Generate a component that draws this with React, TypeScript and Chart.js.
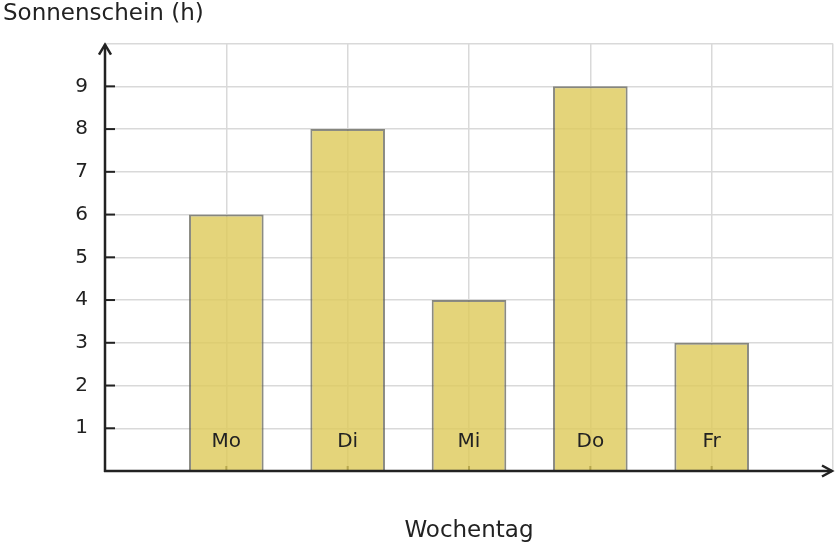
import React, { useEffect, useRef } from 'react';
import { Chart, registerables } from 'chart.js';

Chart.register(...registerables);

const categories = ['Mo', 'Di', 'Mi', 'Do', 'Fr'];
const sunshineHours = [6, 8, 4, 9, 3];
const yTickValues = [1, 2, 3, 4, 5, 6, 7, 8, 9];
const yMin = 0;
const yMax = 10;
const yTitle = 'Sonnenschein (h)';
const xTitle = 'Wochentag';

const FONT = '"DejaVu Sans", sans-serif';
const TEXT = '#222222';
const GRID = '#d9d9d9';

export default function App() {
  const ref = useRef<HTMLCanvasElement>(null);

  useEffect(() => {
    document.body.style.margin = '0';
    const canvas = ref.current;
    if (!canvas) return;

    const labels = ['', ...categories, ''];
    const data = [null, ...sunshineHours, null];

    const axesPlugin = {
      id: 'axesArrows',
      beforeDatasetsDraw(chart: any) {
        const { ctx, chartArea: a, scales } = chart;
        const x = scales.x;
        const y = scales.y;
        ctx.save();
        ctx.strokeStyle = TEXT;
        ctx.lineWidth = 2;
        yTickValues.forEach((v) => {
          const py = y.getPixelForValue(v);
          ctx.beginPath();
          ctx.moveTo(a.left, py);
          ctx.lineTo(a.left + 10, py);
          ctx.stroke();
        });
        categories.forEach((_, i) => {
          const px = x.getPixelForValue(i + 1);
          ctx.beginPath();
          ctx.moveTo(px, a.bottom);
          ctx.lineTo(px, a.bottom - 5);
          ctx.stroke();
        });
        ctx.restore();
      },
      afterDatasetsDraw(chart: any) {
        const { ctx, chartArea: a } = chart;
        ctx.save();
        ctx.strokeStyle = TEXT;
        ctx.lineWidth = 2.5;
        ctx.lineCap = 'butt';
        // y axis
        ctx.beginPath();
        ctx.moveTo(a.left, a.bottom + 1);
        ctx.lineTo(a.left, a.top + 1);
        ctx.stroke();
        // x axis
        ctx.beginPath();
        ctx.moveTo(a.left - 1, a.bottom);
        ctx.lineTo(a.right - 1, a.bottom);
        ctx.stroke();
        // arrow heads
        ctx.lineJoin = 'miter';
        ctx.beginPath();
        ctx.moveTo(a.left - 6, a.top + 11);
        ctx.lineTo(a.left, a.top + 1);
        ctx.lineTo(a.left + 6, a.top + 11);
        ctx.stroke();
        ctx.beginPath();
        ctx.moveTo(a.right - 11, a.bottom - 5.5);
        ctx.lineTo(a.right - 1, a.bottom);
        ctx.lineTo(a.right - 11, a.bottom + 5.5);
        ctx.stroke();
        ctx.restore();
      },
    };

    const chart = new Chart(canvas, {
      type: 'bar',
      data: {
        labels,
        datasets: [
          {
            data,
            backgroundColor: 'rgba(221, 201, 89, 0.8)',
            borderColor: 'rgba(100, 100, 90, 0.75)',
            borderWidth: 2,
            categoryPercentage: 1,
            barPercentage: 0.615,
          },
        ],
      },
      options: {
        animation: false,
        responsive: false,
        devicePixelRatio: 1,
        layout: { padding: { left: 3, right: 4, top: 0, bottom: 0 } },
        plugins: {
          legend: { display: false },
          tooltip: { enabled: false },
          title: {
            display: true,
            text: yTitle,
            align: 'start',
            color: TEXT,
            font: { family: FONT, size: 23, weight: 'normal' },
            padding: { top: 0, bottom: 16 },
          },
        },
        scales: {
          x: {
            type: 'category',
            offset: false,
            border: { display: false },
            grid: { color: GRID, lineWidth: 1.5, drawTicks: false, offset: false },
            ticks: {
              z: 1,
              mirror: true,
              color: TEXT,
              font: { family: FONT, size: 20 },
              padding: 17,
              maxRotation: 0,
              autoSkip: false,
            },
            title: {
              display: true,
              text: xTitle,
              color: TEXT,
              font: { family: FONT, size: 23 },
              padding: { top: 0, bottom: 3 },
            },
            afterFit(scale: any) {
              scale.height = 77;
              scale.paddingLeft = 0;
              scale.paddingRight = 0;
            },
          },
          y: {
            min: yMin,
            max: yMax,
            border: { display: false },
            grid: { color: GRID, lineWidth: 1.5, drawTicks: false },
            ticks: {
              stepSize: 1,
              color: TEXT,
              font: { family: FONT, size: 20 },
              padding: 17,
              callback: (v: any) => (yTickValues.includes(Number(v)) ? String(v) : ''),
            },
            afterFit(scale: any) {
              scale.width = 102;
            },
          },
        },
      },
      plugins: [axesPlugin],
    });

    return () => chart.destroy();
  }, []);

  return (
    <div style={{ position: 'fixed', left: 0, top: 0, width: 837, height: 548, background: '#fff' }}>
      <canvas ref={ref} width={837} height={548} />
    </div>
  );
}
